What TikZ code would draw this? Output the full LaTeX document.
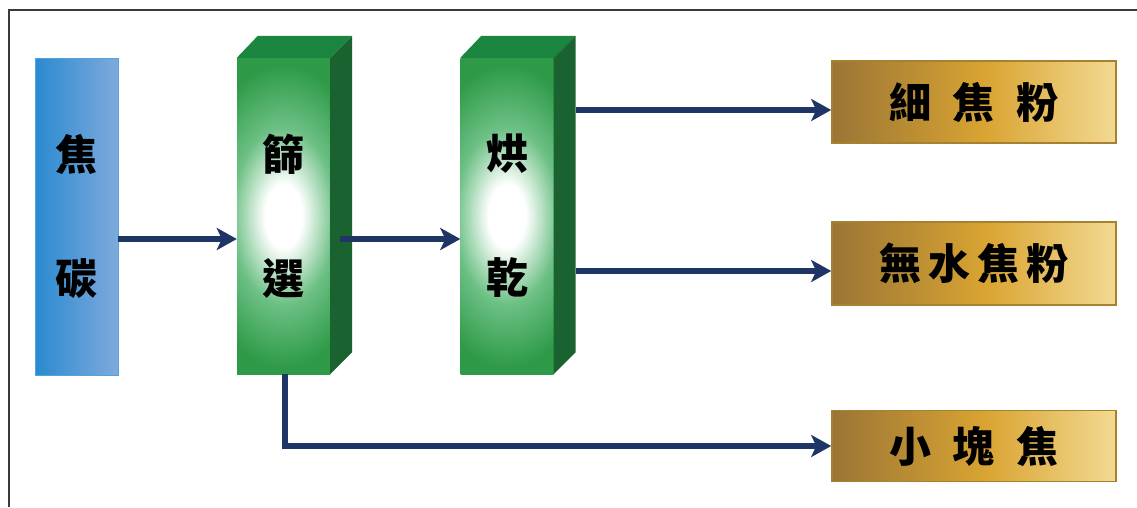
\documentclass[tikz,border=0pt]{standalone}
\usepackage{fontspec}
\usetikzlibrary{arrows.meta}
\newfontfamily\cjk{Noto Sans CJK TC}

% colours
\definecolor{frameline}{HTML}{3A3A3A}
\definecolor{flow}{HTML}{1F3566}
\definecolor{blueL}{HTML}{2A8AD0}
\definecolor{blueR}{HTML}{7EAADC}
\definecolor{gface}{HTML}{2E9A48}
\definecolor{gmid}{HTML}{6CC084}
\definecolor{gtop}{HTML}{1B8640}
\definecolor{gside}{HTML}{1A6330}
\definecolor{goldA}{HTML}{9A7535}
\definecolor{goldB}{HTML}{D9A432}
\definecolor{goldC}{HTML}{F3DA92}
\definecolor{goldEdge}{HTML}{A68230}

% soft white glow on the front of the process columns
\pgfdeclareradialshading{greenglow}{\pgfpoint{0bp}{0bp}}{%
  color(0bp)=(white); color(5bp)=(white); color(14bp)=(gmid);
  color(24bp)=(gface); color(50bp)=(gface)}
% gold product bars
\pgfdeclarehorizontalshading{goldbar}{100bp}{%
  color(0bp)=(goldA); color(25bp)=(goldA); color(52bp)=(goldB);
  color(75bp)=(goldC); color(100bp)=(goldC)}

\tikzset{
  txt/.style={font=\cjk\bfseries\fontsize{42}{42}\selectfont, text=black},
  feed/.style={rectangle, minimum width=83pt, minimum height=317pt,
    left color=blueL, right color=blueR, draw=blueL!80!white, line width=0.8pt,
    txt, align=center, inner sep=0pt},
  column/.style={rectangle, minimum width=93pt, minimum height=316pt,
    fill=gface, txt, align=center, inner sep=0pt,
    path picture={\shade[shading=greenglow]
      ([xshift=-46pt]path picture bounding box.north west) rectangle
      ([xshift=46pt]path picture bounding box.south east);}},
  product/.style={rectangle, minimum width=284pt, shading=goldbar,
    draw=goldEdge, line width=1.6pt, txt, inner sep=0pt},
  flowline/.style={draw=flow, line width=6pt},
  flowarrow/.style={flowline, -{Stealth[length=20pt, width=22pt, inset=5pt]}},
}
\newcommand{\lgap}{\hspace{22pt}}
\newcommand{\sgap}{\hspace{7pt}}
\newcommand{\colgap}{\\[82pt]}

\begin{document}
\begin{tikzpicture}[x=1pt, y=-1pt]
  \useasboundingbox (0,0) rectangle (1137,507);
  \fill[white] (0,0) rectangle (1137,507);

  % frame
  \draw[frameline, line width=2pt] (9,507) -- (9,10) -- (1137,10);

  % raw material
  \node[feed] (coke) at (76.5,216.5) {焦\colgap 碳};

  % process columns: top and side faces, then the shaded front
  \foreach \n/\x/\l in {sieve/283.5/{篩\colgap 選}, dry/507/{烘\colgap 乾}}{
    \node[column] (\n) at (\x,216) {\l};
    \fill[gtop] (\n.north west) -- ++(21,-22) -- ([shift={(22,-22)}]\n.north east)
      -- (\n.north east) -- cycle;
    \fill[gside] (\n.north east) -- ++(22,-22) -- ([shift={(22,-22)}]\n.south east)
      -- (\n.south east) -- cycle;
  }

  % products
  \node[product, minimum height=82pt] (fine)  at (974,102)   {細\lgap 焦\lgap 粉};
  \node[product, minimum height=83pt] (anhyd) at (974,263.5) {無\sgap 水\sgap 焦\sgap 粉};
  \node[product, minimum height=71pt] (lump)  at (974,446)   {小\lgap 塊\lgap 焦};

  % flows
  \coordinate (sieveOut) at ([xshift=10pt, yshift=-23pt]sieve.east);
  \draw[flowarrow] (coke.east |- 0,239) -- (sieve.west |- 0,239);
  \draw[flowarrow] (sieveOut |- 0,239) -- (dry.west |- 0,239);
  \draw[flowarrow] ([xshift=22pt]dry.east |- 0,110) -- (fine.west |- 0,110);
  \draw[flowarrow] ([xshift=22pt]dry.east |- 0,271) -- (anhyd.west |- 0,271);
  \draw[flowline] (284.5,374) -- (284.5,446) coordinate (bend);
  \draw[flowarrow] ([xshift=-3pt]bend) -- (lump.west);
\end{tikzpicture}
\end{document}
